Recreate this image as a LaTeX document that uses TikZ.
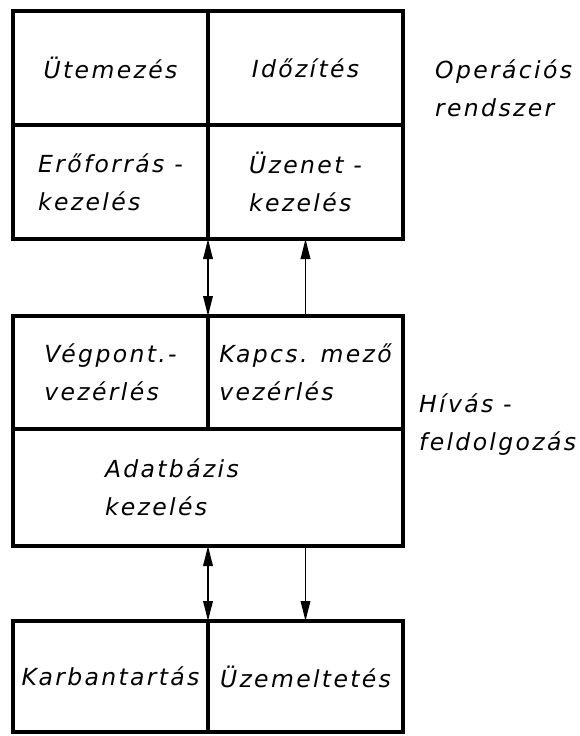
\documentclass[tikz,border=0pt]{standalone}
\usepackage{fontspec}
\newfontfamily\lettering[LetterSpace=10]{DejaVu Sans}
\usetikzlibrary{arrows.meta,positioning,calc}
\tikzset{
  every picture/.style={x=1pt, y=1pt},
  label font/.style={font=\lettering\itshape\fontsize{23.5}{38}\selectfont},
  cell/.style={draw, line width=3.8pt, outer sep=0pt, inner sep=0pt, minimum width=195pt, minimum height=114pt, align=left, label font},
  side/.style={align=left, inner sep=0pt, anchor=west, label font},
  tip/.tip={Triangle[length=20pt, width=9.5pt]},
  link/.style={line width=1.8pt},
}
\begin{document}
\begin{tikzpicture}
  \useasboundingbox (0,0) rectangle (580,-736);
  % operating system block
  \node[cell] (ut) at (110.5,-68) {Ütemezés};
  \node[cell, right=0pt of ut] (ido) {Időzítés};
  \node[cell, below=0pt of ut] (ero) {Erőforrás -\\kezelés};
  \node[cell, right=0pt of ero] (uze) {Üzenet -\\kezelés};
  \node[side] (os) at (435,-88) {Operációs\\rendszer};
  % call processing block
  \node[cell, minimum height=113pt, below=77pt of ero] (veg) {Végpont.-\\vezérlés};
  \node[cell, minimum height=113pt, right=0pt of veg] (kap) {Kapcs. mező\\vezérlés};
  \node[cell, minimum width=390pt, minimum height=117pt, text width=206pt, inner xsep=92pt, below right=0pt and 0pt of veg.south west] (adat) {Adatbázis\\kezelés};
  \node[side] (hf) at (419,-425) {Hívás -\\feldolgozás};
  % maintenance and operation
  \node[cell, minimum height=111pt, below right=75pt and 0pt of adat.south west] (karb) {Karbantartás};
  \node[cell, minimum height=111pt, right=0pt of karb] (uzem) {Üzemeltetés};
  % connections
  \draw[link, tip-tip] (ero.south east) -- (veg.north east);
  \draw[link, -tip] (kap.north) -- (uze.south);
  \draw[link, tip-tip] (adat.south) -- (karb.north east);
  \draw[link, -tip] (adat.south -| uzem.north) -- (uzem.north);
\end{tikzpicture}
\end{document}
